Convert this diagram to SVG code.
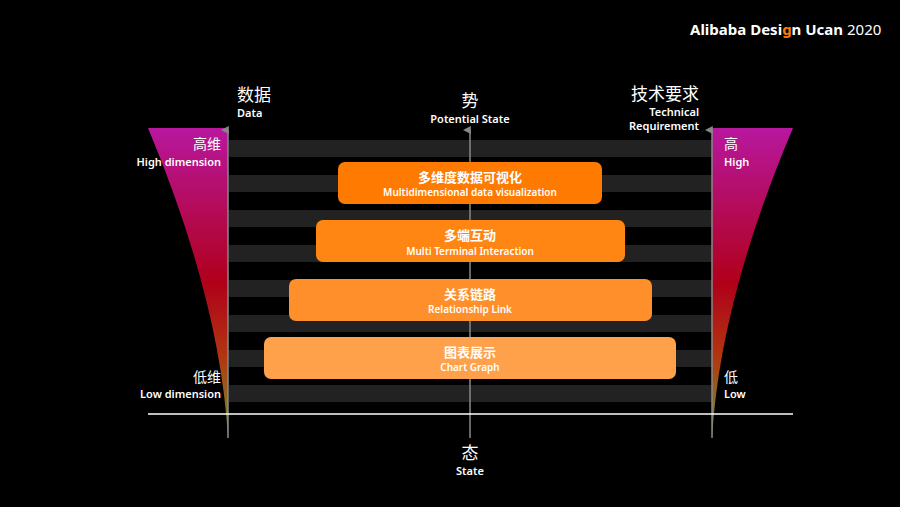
<svg xmlns="http://www.w3.org/2000/svg" width="900" height="507" viewBox="0 0 900 507">
<defs>
<linearGradient id="fg" x1="0" y1="0" x2="0" y2="1">
<stop offset="0" stop-color="#b8179f"/>
<stop offset="0.5" stop-color="#b0001a"/>
<stop offset="0.75" stop-color="#b03a10"/>
<stop offset="1" stop-color="#6a9a30"/>
</linearGradient>
<marker id="ar" viewBox="0 0 10 10" refX="5" refY="9" markerWidth="8" markerHeight="8" orient="auto-start-reverse" markerUnits="userSpaceOnUse"><path d="M0,10 L5,0 L10,10 Z" fill="#888"/></marker>
</defs>
<style>
text{font-family:"Noto Sans","Noto Sans CJK SC",sans-serif;fill:#fff}
.cn{font-size:17px}
.sm{font-size:14px}
.en{font-size:11px;font-weight:600}
.stripe{fill:#222}
.ax{stroke:#8a8a8a;stroke-width:1.5;fill:none}
.bt{font-size:13px;font-weight:bold}
.bs{font-size:10px;font-weight:600}
</style>
<rect width="900" height="507" fill="#000"/>
<text x="690" y="35" font-size="15" font-weight="bold">Alibaba Desi<tspan fill="#ff7a00">g</tspan>n Ucan <tspan font-weight="normal">2020</tspan></text>
<g id="stripes">
<rect class="stripe" x="229" y="140" width="483" height="17"/>
<rect class="stripe" x="229" y="175" width="483" height="17"/>
<rect class="stripe" x="229" y="210" width="483" height="17"/>
<rect class="stripe" x="229" y="245" width="483" height="17"/>
<rect class="stripe" x="229" y="280" width="483" height="17"/>
<rect class="stripe" x="229" y="315" width="483" height="17"/>
<rect class="stripe" x="229" y="350" width="483" height="17"/>
<rect class="stripe" x="229" y="385" width="483" height="17"/>
</g>
<g id="funnel-left"><path d="M148,128 L228,128 L228,438 Q220,300 148,128 Z" fill="url(#fg)"/></g>
<g id="funnel-right"><path d="M793,128 L712,128 L712,438 Q720,300 793,128 Z" fill="url(#fg)"/></g>
<g id="connectors">
<line class="ax" x1="228" y1="438" x2="228" y2="130" marker-end="url(#ar)"/>
<line class="ax" x1="470" y1="438" x2="470" y2="130" marker-end="url(#ar)"/>
<line class="ax" x1="712" y1="438" x2="712" y2="130" marker-end="url(#ar)"/>
<line x1="148" y1="414" x2="793" y2="414" stroke="#fff" stroke-width="1.5"/>
</g>
<g id="box1"><rect x="338" y="162" width="264" height="42" rx="7" fill="#ff7a00"/><text class="bt" x="470" y="182" text-anchor="middle">多维度数据可视化</text><text class="bs" x="470" y="196" text-anchor="middle">Multidimensional data visualization</text></g>
<g id="box2"><rect x="316" y="220" width="309" height="42" rx="7" fill="#ff8612"/><text class="bt" x="470" y="240" text-anchor="middle">多端互动</text><text class="bs" x="470" y="255" text-anchor="middle">Multi Terminal Interaction</text></g>
<g id="box3"><rect x="289" y="279" width="363" height="42" rx="7" fill="#ff8f2a"/><text class="bt" x="470" y="299" text-anchor="middle">关系链路</text><text class="bs" x="470" y="313" text-anchor="middle">Relationship Link</text></g>
<g id="box4"><rect x="264" y="337" width="412" height="42" rx="7" fill="#ffa04a"/><text class="bt" x="470" y="357" text-anchor="middle">图表展示</text><text class="bs" x="470" y="371" text-anchor="middle">Chart Graph</text></g>
<g id="labels">
<text class="cn" x="237" y="101">数据</text><text class="en" x="237" y="117">Data</text>
<text class="cn" x="470" y="107" text-anchor="middle">势</text><text class="en" x="470" y="123" text-anchor="middle">Potential State</text>
<text class="cn" x="699" y="100" text-anchor="end">技术要求</text><text class="en" x="699" y="115.5" text-anchor="end">Technical</text><text class="en" x="699" y="129.5" text-anchor="end">Requirement</text>
<text class="sm" x="221" y="149" text-anchor="end">高维</text><text class="en" x="221" y="166" text-anchor="end">High dimension</text>
<text class="sm" x="724" y="149">高</text><text class="en" x="724" y="166">High</text>
<text class="sm" x="221" y="382" text-anchor="end">低维</text><text class="en" x="221" y="398" text-anchor="end">Low dimension</text>
<text class="sm" x="724" y="382">低</text><text class="en" x="724" y="398">Low</text>
<text class="cn" x="470" y="459" text-anchor="middle">态</text><text class="en" x="470" y="475" text-anchor="middle">State</text>
</g>
</svg>
